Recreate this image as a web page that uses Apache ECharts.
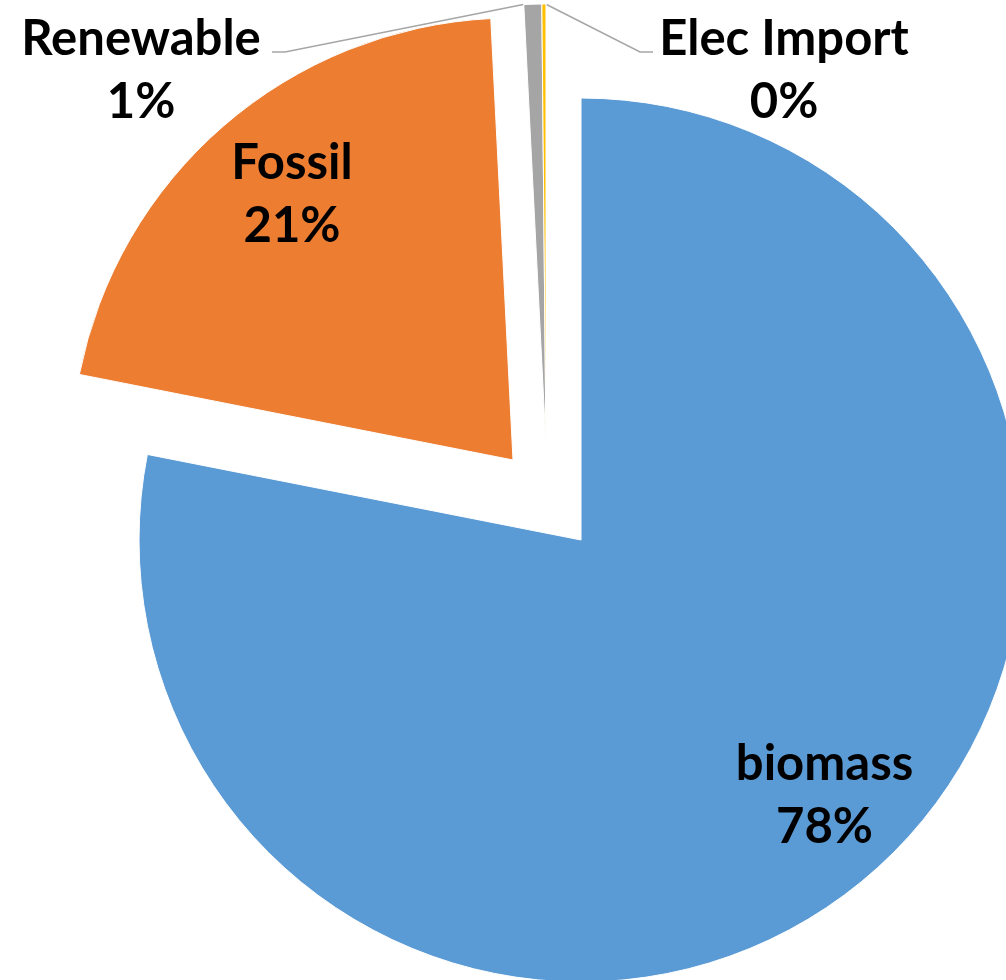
<!DOCTYPE html>
<html>
<head>
<meta charset="utf-8">
<title>Energy sources</title>
<script src="https://cdn.jsdelivr.net/npm/echarts@6.0.0/dist/echarts.min.js"></script>
<style>
  html, body { margin: 0; padding: 0; background: #fff; }
  #chart { width: 1006px; height: 980px; }
</style>
</head>
<body>
<div id="chart"></div>
<script>
// share of each energy source (%)
var categories = ['biomass', 'Fossil', 'Renewable', 'Elec Import'];
var shares = [78.1, 21.1, 0.65, 0.15];

var colors = ['#5b9bd5', '#ed7d31', '#a5a5a5', '#ffc000'];
var R = 442;
// exploded slices sit on their own centre
var centers = [[581, 540], [513, 460], [546, 446], [546, 446]];
// outside label spots (Renewable / Elec Import)
var labelSpots = { 2: { x: 266, y: 71, align: 'right' }, 3: { x: 659, y: 71, align: 'left' } };

var font = { fontFamily: 'Lato', fontWeight: 'bold', fontSize: 49, lineHeight: 63, color: '#000' };

function pct(p) { return Math.round(p.percent) + '%'; }

// one pie per centre, only the slices listed in `show` get painted
function slices(center, show) {
    return {
        type: 'pie',
        center: center,
        radius: R,
        startAngle: 90,
        clockwise: true,
        silent: true,
        avoidLabelOverlap: false,
        label: { show: false },
        labelLine: { show: false },
        data: categories.map(function (name, i) {
            var on = show.indexOf(i) >= 0;
            return {
                name: name,
                value: shares[i],
                label: { show: false },
                labelLine: { show: false },
                itemStyle: on
                    ? { color: colors[i], borderColor: '#fff', borderWidth: 1 }
                    : { color: 'transparent', borderWidth: 0 }
            };
        })
    };
}

// transparent ring, used only to push the inside label outwards
function insideLabel(i, r0, offset) {
    var s = slices(centers[i], []);
    s.radius = [r0, R];
    s.data[i].label = Object.assign({
        show: true,
        position: 'inside',
        offset: offset,
        formatter: function (p) { return p.name + '\n' + pct(p); }
    }, font);
    return s;
}

var outside = slices(centers[2], [2, 3]);
[2, 3].forEach(function (i) {
    outside.data[i].label = {
        show: true,
        position: 'outside',
        formatter: function (p) { return '{a|' + p.name + '}\n{a|' + pct(p) + '}'; },
        rich: { a: Object.assign({ width: 250, align: 'center' }, font) }
    };
    outside.data[i].labelLine = { show: true, lineStyle: { color: '#a6a6a6', width: 1.5 } };
});
outside.labelLayout = function (p) {
    var spot = labelSpots[p.dataIndex];
    if (!spot) return;
    var r = p.rect;
    var left = spot.align === 'right';
    var tip = left ? [r.x, r.y + 1] : [r.x + r.width, r.y + 1];
    var sx = left ? 1 : -1;
    var ly = spot.y - 19;
    return {
        x: spot.x,
        y: spot.y,
        align: spot.align,
        verticalAlign: 'middle',
        labelLinePoints: [tip, [spot.x + sx * 19, ly], [spot.x + sx * 6, ly]]
    };
};

var chart = echarts.init(document.getElementById('chart'));
chart.setOption({
    animation: false,
    backgroundColor: '#fff',
    series: [
        slices(centers[0], [0]),
        slices(centers[1], [1]),
        outside,
        insideLabel(0, 256, [20, -16]),
        insideLabel(1, 243, [5, -4])
    ]
});
</script>
</body>
</html>
